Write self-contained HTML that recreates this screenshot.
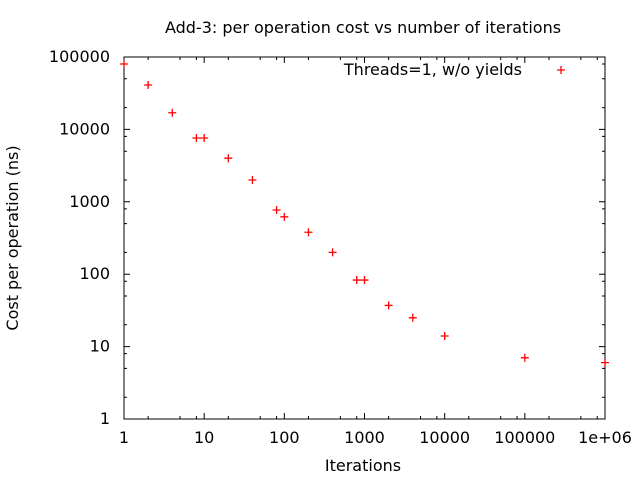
<!DOCTYPE html>
<html><head><meta charset="utf-8"><style>
body{margin:0;background:#fff}
svg{display:block;font-family:"DejaVu Sans",sans-serif;font-size:16px}
</style></head><body>
<svg id="chart" width="640" height="480">
<text x="363" y="33" text-anchor="middle">Add-3: per operation cost vs number of iterations</text>
<text x="363" y="471" text-anchor="middle">Iterations</text>
<text transform="translate(18,238) rotate(-90)" text-anchor="middle">Cost per operation (ns)</text>
<g id="axes"></g>
<g id="marks"></g>
<text x="522" y="75" text-anchor="end">Threads=1, w/o yields</text>
<path d="M557 70h8M561 66v8" stroke="#f00" stroke-width="1.3"/>
</svg>
<script>
const xVals=[1,2,4,8,10,20,40,80,100,200,400,800,1000,2000,4000,10000,100000,1000000];
const yVals=[80000,41000,17000,7600,7600,4000,2000,770,620,380,200,83,83,37,25,14,7,6];
const xTicks=["1","10","100","1000","10000","100000","1e+06"];
const yTicks=["1","10","100","1000","10000","100000"];
const L=124,R=605,T=57,B=419;
const xs=v=>L+Math.log10(v)/6*(R-L);
const ys=v=>B-Math.log10(v)/5*(B-T);
const NS="http://www.w3.org/2000/svg";
const ax=document.getElementById('axes'),mk=document.getElementById('marks');
function el(t,a,p){const e=document.createElementNS(NS,t);for(const k in a)e.setAttribute(k,a[k]);p.appendChild(e);return e;}
const frame=el('rect',{x:L,y:T,width:R-L,height:B-T,fill:'none',stroke:'#000','stroke-width':1},ax);


let d='';
const minors=[2,5,8];
xTicks.forEach((t,i)=>{const x=xs(Math.pow(10,i));d+=`M${x} ${B}v-6M${x} ${T}v6`;
 if(i<6)minors.forEach(m=>{const mx=xs(m*Math.pow(10,i));d+=`M${mx} ${B}v-3M${mx} ${T}v3`;});
 const tx=el('text',{x:x,y:B+24,'text-anchor':'middle'},ax);tx.textContent=t;
 
 });
yTicks.forEach((t,i)=>{const y=ys(Math.pow(10,i));d+=`M${L} ${y}h6M${R} ${y}h-6`;
 if(i<5)minors.forEach(m=>{const my=ys(m*Math.pow(10,i));d+=`M${L} ${my}h3M${R} ${my}h-3`;});
 const tx=el('text',{x:L-14,y:y+5,'text-anchor':'end'},ax);tx.textContent=t;
 
 });
const tk=el('path',{d:d,stroke:'#000','stroke-width':1},ax);


xVals.forEach((v,i)=>{const x=xs(v),y=ys(yVals[i]);
 const p=el('path',{d:`M${x-4} ${y}h8M${x} ${y-4}v8`,stroke:'#f00','stroke-width':1.3},mk);
 
 });
</script>
</body></html>
